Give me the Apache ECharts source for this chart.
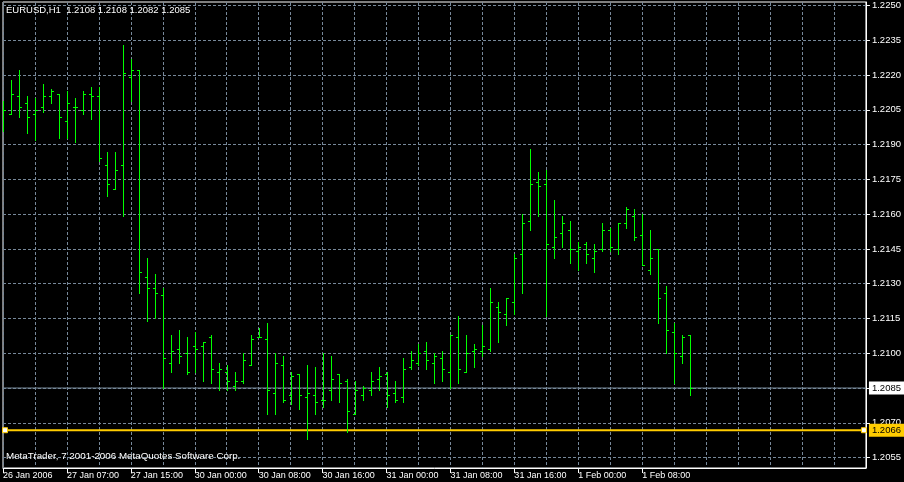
<!DOCTYPE html>
<html>
<head>
<meta charset="utf-8">
<script src="https://cdn.jsdelivr.net/npm/echarts@6/dist/echarts.min.js"></script>
<style>
html,body{margin:0;padding:0;background:#000;}
#chart{width:904px;height:482px;}
</style>
</head>
<body>
<div id="chart"></div>
<script>
// ---------------- data ----------------
const symbolName = 'EURUSD,H1';
const copyrightText = 'MetaTrader, 7 2001-2006 MetaQuotes Software Corp.';

const barTimes = [
  '2006.01.26 23:00',
  '2006.01.27 00:00','2006.01.27 01:00','2006.01.27 02:00','2006.01.27 03:00','2006.01.27 04:00','2006.01.27 05:00',
  '2006.01.27 06:00','2006.01.27 07:00','2006.01.27 08:00','2006.01.27 09:00','2006.01.27 10:00','2006.01.27 11:00',
  '2006.01.27 12:00','2006.01.27 13:00','2006.01.27 14:00','2006.01.27 15:00','2006.01.27 16:00','2006.01.27 17:00',
  '2006.01.27 18:00','2006.01.27 19:00','2006.01.27 20:00','2006.01.27 21:00','2006.01.27 22:00',
  '2006.01.30 00:00','2006.01.30 01:00','2006.01.30 02:00','2006.01.30 03:00','2006.01.30 04:00','2006.01.30 05:00',
  '2006.01.30 06:00','2006.01.30 07:00','2006.01.30 08:00','2006.01.30 09:00','2006.01.30 10:00','2006.01.30 11:00',
  '2006.01.30 12:00','2006.01.30 13:00','2006.01.30 14:00','2006.01.30 15:00','2006.01.30 16:00','2006.01.30 17:00',
  '2006.01.30 18:00','2006.01.30 19:00','2006.01.30 20:00','2006.01.30 21:00','2006.01.30 22:00','2006.01.30 23:00',
  '2006.01.31 00:00','2006.01.31 01:00','2006.01.31 02:00','2006.01.31 03:00','2006.01.31 04:00','2006.01.31 05:00',
  '2006.01.31 06:00','2006.01.31 07:00','2006.01.31 08:00','2006.01.31 09:00','2006.01.31 10:00','2006.01.31 11:00',
  '2006.01.31 12:00','2006.01.31 13:00','2006.01.31 14:00','2006.01.31 15:00','2006.01.31 16:00','2006.01.31 17:00',
  '2006.01.31 18:00','2006.01.31 19:00','2006.01.31 20:00','2006.01.31 21:00','2006.01.31 22:00','2006.01.31 23:00',
  '2006.02.01 00:00','2006.02.01 01:00','2006.02.01 02:00','2006.02.01 03:00','2006.02.01 04:00','2006.02.01 05:00',
  '2006.02.01 06:00','2006.02.01 07:00','2006.02.01 08:00','2006.02.01 09:00','2006.02.01 10:00','2006.02.01 11:00',
  '2006.02.01 12:00','2006.02.01 13:00','2006.02.01 14:00'
];

const openPrices = [
  1.2200,1.2203,1.2211,1.2208,1.2203,1.2206,1.2211,1.2212,1.2200,1.2206,
  1.2205,1.2212,1.2211,1.2181,1.2171,1.2181,1.2219,1.2222,1.2133,1.2128,
  1.2125,1.2096,1.2102,1.2100,1.2103,1.2103,1.2107,1.2092,1.2092,1.2086,
  1.2088,1.2095,1.2107,1.2106,1.2083,1.2095,1.2082,1.2091,1.2081,1.2082,
  1.2080,1.2084,1.2091,1.2088,1.2074,1.2082,1.2084,1.2089,1.2091,1.2083,
  1.2081,1.2094,1.2096,1.2101,1.2096,1.2098,1.2092,1.2107,1.2092,1.2101,
  1.2101,1.2102,1.2120,1.2117,1.2122,1.2143,1.2157,1.2174,1.2173,1.2146,
  1.2152,1.2153,1.2144,1.2147,1.2141,1.2145,1.2153,1.2145,1.2156,1.2159,
  1.2151,1.2136,1.2145,1.2126,1.2109,1.2099,1.2108
];
const highPrices = [
  1.2209,1.2218,1.2222,1.2211,1.2210,1.2216,1.2214,1.2212,1.2213,1.2210,
  1.2213,1.2215,1.2215,1.2187,1.2187,1.2233,1.2227,1.2222,1.2141,1.2134,
  1.2128,1.2108,1.2110,1.2107,1.2109,1.2105,1.2108,1.2096,1.2095,1.2092,
  1.2100,1.2108,1.2111,1.2113,1.2100,1.2099,1.2092,1.2091,1.2095,1.2094,
  1.2100,1.2099,1.2091,1.2089,1.2088,1.2086,1.2092,1.2094,1.2092,1.2088,
  1.2098,1.2101,1.2104,1.2105,1.2100,1.2101,1.2108,1.2116,1.2108,1.2104,
  1.2112,1.2128,1.2122,1.2124,1.2143,1.2160,1.2188,1.2178,1.2179,1.2166,
  1.2159,1.2157,1.2148,1.2148,1.2147,1.2156,1.2154,1.2156,1.2163,1.2162,
  1.2160,1.2153,1.2145,1.2129,1.2113,1.2108,1.2108
];
const lowPrices = [
  1.2196,1.2203,1.2202,1.2195,1.2192,1.2204,1.2208,1.2193,1.2193,1.2191,
  1.2203,1.2201,1.2183,1.2168,1.2171,1.2159,1.2209,1.2126,1.2114,1.2115,
  1.2085,1.2092,1.2096,1.2091,1.2092,1.2088,1.2087,1.2084,1.2084,1.2084,
  1.2087,1.2095,1.2107,1.2074,1.2074,1.2079,1.2078,1.2076,1.2063,1.2074,
  1.2077,1.2080,1.2079,1.2066,1.2074,1.2080,1.2082,1.2084,1.2077,1.2079,
  1.2079,1.2093,1.2095,1.2093,1.2087,1.2088,1.2085,1.2087,1.2092,1.2094,
  1.2099,1.2101,1.2105,1.2112,1.2117,1.2126,1.2153,1.2159,1.2116,1.2141,
  1.2146,1.2139,1.2136,1.2139,1.2135,1.2144,1.2144,1.2143,1.2154,1.2149,
  1.2138,1.2134,1.2113,1.2100,1.2087,1.2096,1.2082
];
const closePrices = [
  1.2205,1.2212,1.2206,1.2202,1.2205,1.2211,1.2213,1.2202,1.2208,1.2206,
  1.2212,1.2211,1.2184,1.2173,1.2179,1.2221,1.2222,1.2135,1.2128,1.2126,
  1.2098,1.2101,1.2099,1.2092,1.2102,1.2105,1.2093,1.2093,1.2088,1.2088,
  1.2097,1.2106,1.2107,1.2084,1.2096,1.2080,1.2090,1.2082,1.2083,1.2079,
  1.2080,1.2089,1.2087,1.2075,1.2084,1.2085,1.2088,1.2090,1.2082,1.2080,
  1.2093,1.2097,1.2100,1.2097,1.2099,1.2093,1.2108,1.2093,1.2100,1.2102,
  1.2103,1.2122,1.2118,1.2124,1.2141,1.2156,1.2173,1.2172,1.2147,1.2150,
  1.2156,1.2145,1.2146,1.2143,1.2144,1.2153,1.2146,1.2156,1.2162,1.2150,
  1.2138,1.2141,1.2124,1.2110,1.2100,1.2107,1.2085
];

// time-axis labels, one every 8 bars
const timeTickLabels = [
  '26 Jan 2006','27 Jan 07:00','27 Jan 15:00','30 Jan 00:00','30 Jan 08:00','30 Jan 16:00',
  '31 Jan 00:00','31 Jan 08:00','31 Jan 16:00','1 Feb 00:00','1 Feb 08:00'
];
// price-axis labels
const priceTicks = [
  1.2055,1.2070,1.2085,1.2100,1.2115,1.2130,1.2145,1.2160,1.2175,1.2190,1.2205,1.2220,1.2235,1.2250
];
const horizontalLevel = 1.20668;   // user drawn horizontal line
const emptyFutureBars = 22;        // empty shift area on the right

// ---------------- styles ----------------
const FONT = 'Liberation Sans';
const FS = 9.5;
const BAR_COLOR = '#00ff00';
const GRID_COLOR = '#778899';
const LEVEL_COLOR = '#ffcc00';
const LABEL_STEP = 8;
const GRID_STEP = 4;

const lastIdx = closePrices.length - 1;
const bidPrice = closePrices[lastIdx];
const fmt4 = v => v.toFixed(4);
const trunc4 = v => (Math.floor(v * 10000 + 1e-6) / 10000).toFixed(4);

const axisSlots = barTimes.slice();
for (let i = 1; i <= emptyFutureBars; i++) axisSlots.push('future+' + i);
const lastSlot = axisSlots.length - 1;

const seriesData = barTimes.map((t, i) => [i, openPrices[i], highPrices[i], lowPrices[i], closePrices[i]]);

const titleText = symbolName + '  ' + fmt4(openPrices[lastIdx]) + ' ' + fmt4(highPrices[lastIdx]) + ' ' +
  fmt4(lowPrices[lastIdx]) + ' ' + fmt4(closePrices[lastIdx]);

function renderBar(params, api) {
  const i = api.value(0);
  const pO = api.coord([i, api.value(1)]);
  const pH = api.coord([i, api.value(2)]);
  const pL = api.coord([i, api.value(3)]);
  const pC = api.coord([i, api.value(4)]);
  const x = Math.round(pH[0]) + 0.5;
  const snap = y => Math.round(y) + 0.5;
  const style = { stroke: BAR_COLOR, lineWidth: 1 };
  return {
    type: 'group',
    children: [
      { type: 'line', shape: { x1: x, y1: Math.round(pH[1]), x2: x, y2: Math.round(pL[1]) + 1 }, style: style },
      { type: 'line', shape: { x1: x - 2.5, y1: snap(pO[1]), x2: x - 0.5, y2: snap(pO[1]) }, style: style },
      { type: 'line', shape: { x1: x + 0.5, y1: snap(pC[1]), x2: x + 2.5, y2: snap(pC[1]) }, style: style }
    ]
  };
}

const labelTickShown = i => i % LABEL_STEP === 0 && (i / LABEL_STEP) < timeTickLabels.length;

const chart = echarts.init(document.getElementById('chart'), null, { renderer: 'canvas' });
chart.setOption({
  animation: false,
  backgroundColor: '#000',
  textStyle: { fontFamily: FONT },
  title: [
    { text: titleText, left: 6, top: 5, padding: 0,
      textStyle: { color: '#fff', fontSize: FS, fontWeight: 'normal', fontFamily: FONT } },
    { text: copyrightText, left: 6, top: 451, padding: 0,
      textStyle: { color: '#fff', fontSize: 9.8, fontWeight: 'normal', fontFamily: FONT } }
  ],
  grid: {
    left: 3, right: 37, top: 2, bottom: 14,
    show: true, borderColor: '#fff', borderWidth: 1, backgroundColor: '#000'
  },
  xAxis: {
    type: 'category',
    data: axisSlots,
    boundaryGap: false,
    axisLine: { show: true, lineStyle: { color: '#fff', width: 1 } },
    axisTick: { show: true, length: 5, interval: (i) => labelTickShown(i), lineStyle: { color: '#fff' } },
    axisLabel: {
      interval: LABEL_STEP - 1,
      formatter: (v, i) => (labelTickShown(i) ? timeTickLabels[i / LABEL_STEP] : ''),
      align: 'left', margin: 3, color: '#fff', fontSize: 9, fontFamily: FONT,
      hideOverlap: false
    },
    splitLine: { show: true, interval: (i) => i % GRID_STEP === 0,
      lineStyle: { color: GRID_COLOR, width: 1, type: [3, 2] } }
  },
  yAxis: {
    type: 'value',
    position: 'right',
    min: 1.20505,
    max: 1.22515,
    axisLine: { show: true, lineStyle: { color: '#fff', width: 1 } },
    axisTick: { show: true, length: 4, lineStyle: { color: '#fff' }, customValues: priceTicks },
    axisLabel: { customValues: priceTicks, color: '#fff', fontSize: FS, fontFamily: FONT, margin: 6,
      formatter: v => fmt4(v), showMinLabel: true, showMaxLabel: true },
    splitLine: { show: true, lineStyle: { color: GRID_COLOR, width: 1, type: [3, 2] } }
  },
  series: [
    {
      type: 'line',
      name: 'Bid',
      data: [[0, bidPrice], [lastSlot, bidPrice]],
      symbol: 'none',
      silent: true,
      z: 3,
      lineStyle: { color: GRID_COLOR, width: 1, type: 'solid' },
      endLabel: { show: true, distance: 3, formatter: () => fmt4(bidPrice),
        color: '#000', backgroundColor: '#fff', padding: [2, 4, 1, 3], fontSize: FS, fontFamily: FONT }
    },
    {
      type: 'line',
      name: 'Horizontal Line',
      data: [
        { value: [0, horizontalLevel], symbolOffset: [2, 0] },
        { value: [lastSlot, horizontalLevel], symbolOffset: [-2, 0] }
      ],
      symbol: 'rect',
      symbolSize: 5,
      showSymbol: true,
      silent: true,
      z: 4,
      itemStyle: { color: '#fff', borderColor: LEVEL_COLOR, borderWidth: 1 },
      lineStyle: { color: LEVEL_COLOR, width: 2, type: 'solid' },
      endLabel: { show: true, distance: 3, formatter: () => trunc4(horizontalLevel),
        color: '#000', backgroundColor: LEVEL_COLOR, padding: [2, 4, 1, 3], fontSize: FS, fontFamily: FONT }
    },
    {
      type: 'custom',
      name: symbolName,
      renderItem: renderBar,
      data: seriesData,
      encode: { x: 0, y: [1, 2, 3, 4] },
      clip: true,
      z: 5
    }
  ]
});
</script>
</body>
</html>
